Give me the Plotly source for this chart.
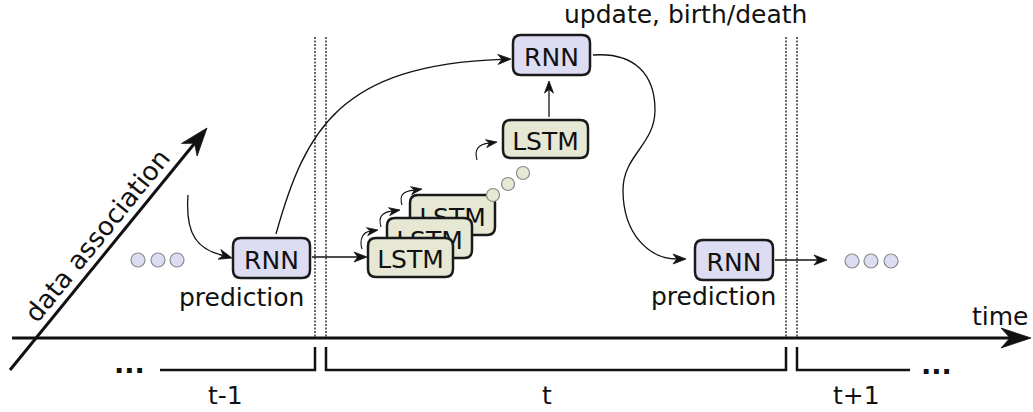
import numpy as np
import plotly.graph_objects as go

# ---------------- content (text / labels) ----------------
box_labels = ["RNN", "RNN", "RNN", "LSTM", "LSTM", "LSTM", "LSTM"]
box_kinds = ["rnn", "rnn", "rnn", "lstm", "lstm", "lstm", "lstm"]
caption_labels = ["prediction", "prediction", "update, birth/death"]
period_labels = ["t-1", "t", "t+1"]
axis_labels = ["time", "data association"]
ellipsis_label = "..."

# ---------------- layout geometry (pixels) ----------------
W, H = 1033, 412
FONT = "DejaVu Sans"
INK = "#111111"
FILL = {"rnn": "#dcdcf2", "lstm": "#e6e8d4"}
TXT = 25
BOXTXT = 25

box_geom = [  # x0, y0, x1, y1
    (233, 238, 310, 278),   # RNN prediction (t-1)
    (513, 35, 590, 75),     # RNN update
    (695, 240, 773, 280),   # RNN prediction (t)
    (503, 120, 588, 158),   # LSTM top
    (410, 195, 495, 235),   # LSTM stack back
    (387, 218, 472, 258),   # LSTM stack middle
    (368, 238, 453, 277),   # LSTM stack front
]
draw_order = [0, 1, 2, 3, 4, 5, 6]

shapes = []
annotations = []


def rrect(x0, y0, x1, y1, r=8):
    return (f"M {x0+r},{y0} L {x1-r},{y0} Q {x1},{y0} {x1},{y0+r} "
            f"L {x1},{y1-r} Q {x1},{y1} {x1-r},{y1} L {x0+r},{y1} "
            f"Q {x0},{y1} {x0},{y1-r} L {x0},{y0+r} Q {x0},{y0} {x0+r},{y0} Z")


def path(p, width=1.3, color=INK, fill=None, dash=None):
    d = dict(type="path", path=p, xref="x", yref="y", layer="above",
             line=dict(color=color, width=width, dash=dash))
    if fill:
        d["fillcolor"] = fill
    shapes.append(d)


def line(x0, y0, x1, y1, width=1.3, color=INK, dash=None):
    shapes.append(dict(type="line", x0=x0, y0=y0, x1=x1, y1=y1, xref="x", yref="y",
                       layer="above", line=dict(color=color, width=width, dash=dash)))


def head(tip, frm, L=13, Wd=5, notch=0.3):
    tip = np.array(tip, float)
    frm = np.array(frm, float)
    u = tip - frm
    u /= np.linalg.norm(u)
    p = np.array([-u[1], u[0]])
    b = tip - u * L
    left = b + p * Wd
    right = b - p * Wd
    n = tip - u * L * (1 - notch)
    path(f"M {tip[0]:.1f},{tip[1]:.1f} L {left[0]:.1f},{left[1]:.1f} "
         f"L {n[0]:.1f},{n[1]:.1f} L {right[0]:.1f},{right[1]:.1f} Z",
         width=0.8, fill=INK)
    return n


def circle(cx, cy, r, fill, border="#8a8a8a"):
    shapes.append(dict(type="circle", x0=cx - r, y0=cy - r, x1=cx + r, y1=cy + r,
                       xref="x", yref="y", layer="above", fillcolor=fill,
                       line=dict(color=border, width=1.2)))


def text(x, y, s, size=TXT, angle=0, bold=False, xanchor="center"):
    annotations.append(dict(x=x, y=y, xref="x", yref="y", text=f"<b>{s}</b>" if bold else s,
                            showarrow=False, xanchor=xanchor, yanchor="middle",
                            textangle=angle, font=dict(family=FONT, size=size, color=INK)))


# ---------------- dashed separators ----------------
for xs in (315, 326, 786, 797):
    line(xs, 37, xs, 338, width=1.2, color="#000000", dash="2px,1.5px")

# ---------------- time axis ----------------
n = head((1031, 338), (900, 338), L=30, Wd=10)
line(12, 338, n[0] + 2, 338, width=3)
text(1000, 316, axis_labels[0])

# ---------------- data association arrow ----------------
n = head((207, 128), (10, 370), L=28, Wd=10)
line(10, 370, n[0], n[1], width=3)
text(97, 236, axis_labels[1], size=26, angle=-51)

# ---------------- period brackets ----------------
path("M 160,370 H 315 V 347", width=2.5)
path("M 326,347 V 370 H 786 V 347", width=2.5)
path("M 797,347 V 370 H 910", width=2.5)
text(129, 363, ellipsis_label, size=27, bold=True)
text(936, 364, ellipsis_label, size=27, bold=True)
text(225, 395, period_labels[0])
text(547, 395, period_labels[1])
text(856, 395, period_labels[2])

# ---------------- connectors ----------------
n = head((232, 258), (218, 254))
path(f"M 188,195 C 185,235 198,250 {n[0]:.1f},{n[1]:.1f}")
n = head((511, 59), (480, 60))
path(f"M 276,234 C 305,130 340,65 {n[0]:.1f},{n[1]:.1f}")
n = head((367, 257), (340, 257))
line(312, 257, n[0], n[1])
for sx, sy, tx, ty in [(362, 249, 378, 230), (381, 227, 400, 210), (402, 205, 422, 189),
                       (477, 160, 497, 142)]:
    n = head((tx, ty), (tx - 10, ty + 1.5), L=11, Wd=4)
    path(f"M {sx},{sy} C {sx-3},{sy-10} {sx+1},{ty+2} {n[0]:.1f},{n[1]:.1f}", width=1.1)
n = head((549, 81), (549, 100), L=12, Wd=4.5)
line(549, 117, n[0], n[1])
n = head((686, 259), (670, 259))
path(f"M 593,55 C 635,52 655,75 655,110 C 655,145 623,155 623,190 "
     f"C 623,235 650,259 {n[0]:.1f},{n[1]:.1f}")
n = head((827, 260), (800, 260))
line(775, 260, n[0], n[1])

# ---------------- boxes (with labels, layered) ----------------
for i in draw_order:
    x0, y0, x1, y1 = box_geom[i]
    shapes.append(dict(type="path", path=rrect(x0, y0, x1, y1), xref="x", yref="y",
                       layer="above", fillcolor=FILL[box_kinds[i]],
                       line=dict(color="#1a1a1a", width=2.5),
                       label=dict(text=box_labels[i], textposition="middle center",
                                  font=dict(family=FONT, size=BOXTXT, color=INK))))

# ---------------- dots ----------------
for cx in (138, 158, 177):
    circle(cx, 260, 7, FILL["rnn"])
for cx in (852, 871, 891):
    circle(cx, 261, 7, FILL["rnn"])
for cx, cy in ((493, 195), (508, 184), (523, 173)):
    circle(cx, cy, 6.5, FILL["lstm"])

# ---------------- captions ----------------
text(241, 297, caption_labels[0])
text(713, 296, caption_labels[1])
text(685, 14, caption_labels[2])

fig = go.Figure()
fig.add_trace(go.Scatter(x=[0], y=[0], mode="markers", marker=dict(opacity=0),
                         hoverinfo="skip", showlegend=False))
fig.update_layout(
    width=W, height=H, autosize=False,
    margin=dict(l=0, r=0, t=0, b=0),
    paper_bgcolor="white", plot_bgcolor="white",
    xaxis=dict(range=[0, W], visible=False, fixedrange=True),
    yaxis=dict(range=[H, 0], visible=False, fixedrange=True),
    shapes=shapes, annotations=annotations, showlegend=False,
)
fig.write_html("out.html", config={"displayModeBar": False},
               post_script="document.body.style.margin='0';document.body.style.overflow='hidden';")
